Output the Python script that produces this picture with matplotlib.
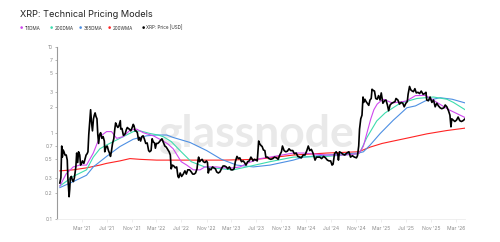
import matplotlib
matplotlib.use("Agg")
import matplotlib.pyplot as plt
import numpy as np
import pandas as pd

# ---------------- data ----------------
price_dates = [
    "2020-11-15","2020-11-20","2020-11-24","2020-11-27","2020-12-01","2020-12-05","2020-12-10","2020-12-16",
    "2020-12-21","2020-12-24","2020-12-30","2021-01-02","2021-01-05","2021-01-10","2021-01-15","2021-01-20",
    "2021-01-25","2021-02-01","2021-02-05","2021-02-10","2021-02-14","2021-02-20","2021-02-24","2021-03-01",
    "2021-03-05","2021-03-12","2021-03-18","2021-03-23","2021-03-28","2021-04-01","2021-04-05","2021-04-10",
    "2021-04-14","2021-04-18","2021-04-23","2021-04-28","2021-05-02","2021-05-06","2021-05-10","2021-05-15",
    "2021-05-19","2021-05-23","2021-05-28","2021-06-02","2021-06-08","2021-06-14","2021-06-20","2021-06-22",
    "2021-06-28","2021-07-04","2021-07-10","2021-07-15","2021-07-20","2021-07-25","2021-07-30","2021-08-05",
    "2021-08-10","2021-08-14","2021-08-20","2021-08-25","2021-08-30","2021-09-06","2021-09-08","2021-09-14",
    "2021-09-21","2021-09-26","2021-09-30","2021-10-05","2021-10-10","2021-10-15","2021-10-20","2021-10-27",
    "2021-11-01","2021-11-08","2021-11-12","2021-11-17","2021-11-22","2021-11-28","2021-12-04","2021-12-08",
    "2021-12-14","2021-12-20","2021-12-26","2022-01-01","2022-01-08","2022-01-15","2022-01-22","2022-01-27",
    "2022-02-03","2022-02-08","2022-02-14","2022-02-20","2022-02-24","2022-03-01","2022-03-08","2022-03-15",
    "2022-03-22","2022-03-28","2022-04-04","2022-04-11","2022-04-18","2022-04-25","2022-05-02","2022-05-08",
    "2022-05-12","2022-05-18","2022-05-25","2022-06-01","2022-06-08","2022-06-14","2022-06-18","2022-06-25",
    "2022-07-02","2022-07-10","2022-07-18","2022-07-25","2022-08-01","2022-08-10","2022-08-18","2022-08-25",
    "2022-09-01","2022-09-08","2022-09-15","2022-09-20","2022-09-23","2022-09-28","2022-10-04","2022-10-10",
    "2022-10-16","2022-10-24","2022-10-31","2022-11-05","2022-11-09","2022-11-15","2022-11-22","2022-11-30",
    "2022-12-06","2022-12-14","2022-12-20","2022-12-28","2023-01-05","2023-01-12","2023-01-20","2023-01-28",
    "2023-02-05","2023-02-12","2023-02-20","2023-02-28","2023-03-08","2023-03-15","2023-03-21","2023-03-29",
    "2023-04-05","2023-04-12","2023-04-20","2023-04-28","2023-05-05","2023-05-12","2023-05-20","2023-05-28",
    "2023-06-05","2023-06-10","2023-06-15","2023-06-22","2023-06-30","2023-07-06","2023-07-13","2023-07-17",
    "2023-07-22","2023-07-30","2023-08-05","2023-08-12","2023-08-17","2023-08-25","2023-09-01","2023-09-10",
    "2023-09-20","2023-09-28","2023-10-08","2023-10-16","2023-10-24","2023-11-01","2023-11-06","2023-11-14",
    "2023-11-22","2023-11-30","2023-12-08","2023-12-16","2023-12-26","2024-01-03","2024-01-12","2024-01-20",
    "2024-01-28","2024-02-06","2024-02-15","2024-02-24","2024-03-04","2024-03-11","2024-03-18","2024-03-26",
    "2024-04-03","2024-04-13","2024-04-20","2024-04-28","2024-05-06","2024-05-15","2024-05-25","2024-06-03",
    "2024-06-12","2024-06-20","2024-06-28","2024-07-05","2024-07-10","2024-07-17","2024-07-25","2024-08-02",
    "2024-08-05","2024-08-10","2024-08-20","2024-08-28","2024-09-05","2024-09-15","2024-09-25","2024-10-03",
    "2024-10-12","2024-10-22","2024-11-01","2024-11-06","2024-11-12","2024-11-16","2024-11-22","2024-11-28",
    "2024-12-03","2024-12-06","2024-12-12","2024-12-18","2024-12-24","2024-12-31","2025-01-06","2025-01-12",
    "2025-01-16","2025-01-22","2025-01-28","2025-02-03","2025-02-10","2025-02-17","2025-02-24","2025-03-02",
    "2025-03-10","2025-03-18","2025-03-25","2025-04-01","2025-04-07","2025-04-14","2025-04-22","2025-04-30",
    "2025-05-08","2025-05-13","2025-05-22","2025-05-30","2025-06-07","2025-06-15","2025-06-22","2025-06-30",
    "2025-07-07","2025-07-11","2025-07-18","2025-07-24","2025-07-31","2025-08-06","2025-08-13","2025-08-20",
    "2025-08-28","2025-09-05","2025-09-13","2025-09-22","2025-09-30","2025-10-06","2025-10-10","2025-10-18",
    "2025-10-26","2025-11-04","2025-11-12","2025-11-20","2025-11-28","2025-12-06","2025-12-14","2025-12-22",
    "2026-01-02","2026-01-08","2026-01-16","2026-01-24","2026-01-31","2026-02-05","2026-02-09","2026-02-16",
    "2026-02-24","2026-03-04","2026-03-12","2026-03-20","2026-03-28","2026-04-05","2026-04-15",
]
price_values = [
    0.26,0.30,0.70,0.52,0.63,0.60,0.55,0.55,
    0.48,0.30,0.18,0.22,0.30,0.31,0.28,0.27,
    0.30,0.40,0.58,0.45,0.60,0.55,0.42,0.44,
    0.47,0.44,0.50,0.55,0.57,0.60,0.95,1.40,
    1.85,1.35,1.05,1.45,1.60,1.70,1.55,1.45,
    0.95,0.75,0.95,1.00,0.86,0.90,0.80,0.60,
    0.68,0.70,0.62,0.58,0.53,0.62,0.75,0.85,
    1.10,1.30,1.20,1.15,1.20,1.38,1.10,1.12,
    0.93,0.95,0.98,1.08,1.15,1.12,1.10,1.05,
    1.12,1.25,1.20,1.05,1.05,1.00,0.82,0.88,
    0.80,0.90,0.92,0.85,0.75,0.76,0.62,0.60,
    0.62,0.85,0.78,0.76,0.66,0.75,0.75,0.78,
    0.82,0.85,0.77,0.70,0.68,0.64,0.60,0.55,
    0.38,0.42,0.41,0.39,0.40,0.31,0.30,0.34,
    0.31,0.33,0.36,0.33,0.37,0.37,0.35,0.33,
    0.33,0.34,0.38,0.48,0.52,0.46,0.48,0.49,
    0.46,0.45,0.47,0.45,0.34,0.38,0.37,0.40,
    0.39,0.38,0.35,0.34,0.35,0.38,0.41,0.41,
    0.40,0.38,0.40,0.37,0.37,0.38,0.46,0.53,
    0.50,0.51,0.46,0.47,0.45,0.42,0.46,0.47,
    0.52,0.50,0.47,0.49,0.48,0.47,0.80,0.75,
    0.72,0.69,0.63,0.62,0.52,0.52,0.50,0.49,
    0.50,0.52,0.51,0.49,0.55,0.60,0.70,0.62,
    0.60,0.61,0.65,0.62,0.62,0.57,0.58,0.53,
    0.52,0.51,0.55,0.55,0.62,0.70,0.62,0.64,
    0.58,0.48,0.52,0.52,0.52,0.50,0.53,0.51,
    0.48,0.47,0.47,0.42,0.43,0.57,0.60,0.56,
    0.48,0.60,0.58,0.56,0.55,0.58,0.60,0.52,
    0.54,0.52,0.51,0.54,0.70,1.10,1.45,1.60,
    2.60,2.25,2.45,2.30,2.20,2.08,2.40,2.50,
    3.20,3.10,3.05,2.50,2.45,2.70,2.40,2.90,
    2.20,2.35,2.40,2.10,1.80,2.10,2.20,2.25,
    2.30,2.50,2.40,2.15,2.25,2.20,2.00,2.20,
    2.30,2.80,3.45,3.15,3.05,3.00,3.25,2.90,
    2.95,2.85,3.05,2.80,2.85,2.95,2.40,2.35,
    2.60,2.25,2.40,2.00,2.20,2.05,1.95,1.90,
    1.95,2.10,2.00,1.80,1.60,1.17,1.45,1.40,
    1.35,1.40,1.52,1.38,1.35,1.38,1.45,
]

dma111_dates = ["2020-11-15","2020-12-15","2021-01-19","2021-02-20","2021-03-25","2021-04-27","2021-05-29",
    "2021-07-01","2021-07-25","2021-08-19","2021-09-20","2021-10-23","2021-11-25","2021-12-27","2022-02-14",
    "2022-04-03","2022-04-26","2022-05-22","2022-06-30","2022-07-27","2022-08-28","2022-09-30","2022-10-23",
    "2022-11-17","2022-12-20","2023-01-21","2023-03-11","2023-04-13","2023-05-16","2023-07-20","2023-09-06",
    "2023-12-29","2024-02-16","2024-06-09","2024-09-01","2024-11-11","2024-11-19","2024-12-05","2024-12-20",
    "2025-01-10","2025-01-25","2025-02-10","2025-03-01","2025-03-15","2025-04-24","2025-06-12","2025-07-05",
    "2025-08-16","2025-10-04","2025-11-22","2026-01-26","2026-04-15"]
dma111_values = [0.24,0.33,0.40,0.42,0.42,0.58,0.90,
    1.03,1.03,0.86,0.90,1.07,1.10,1.00,0.92,
    0.80,0.74,0.65,0.46,0.42,0.37,0.37,0.40,
    0.40,0.40,0.39,0.39,0.40,0.44,0.50,0.52,
    0.58,0.58,0.55,0.55,0.57,0.60,0.70,0.95,
    1.45,1.85,2.15,2.35,2.44,2.22,2.29,2.35,
    2.70,2.72,2.30,1.85,1.50]

dma200_dates = ["2020-11-15","2021-01-19","2021-03-25","2021-04-27","2021-05-29","2021-07-01","2021-09-04",
    "2021-11-08","2021-12-11","2022-01-28","2022-03-09","2022-04-03","2022-05-12","2022-06-30","2022-08-18",
    "2022-10-23","2023-01-12","2023-03-11","2023-05-16","2023-09-06","2023-12-29","2024-06-09","2024-11-11",
    "2024-11-19","2024-12-22","2025-02-08","2025-03-21","2025-06-02","2025-08-23","2025-11-12","2026-01-16",
    "2026-02-17","2026-04-15"]
dma200_values = [0.24,0.31,0.37,0.52,0.65,0.72,0.86,
    1.03,1.05,0.98,0.94,0.90,0.79,0.60,0.46,
    0.40,0.38,0.37,0.40,0.46,0.52,0.53,0.57,
    0.60,0.88,1.37,1.70,2.20,2.50,2.60,2.45,
    2.25,1.85]

dma365_dates = ["2020-11-15","2021-01-19","2021-03-25","2021-04-27","2021-07-01","2021-09-04","2021-11-08",
    "2022-01-12","2022-03-02","2022-04-20","2022-05-22","2022-08-12","2022-11-01","2023-01-12","2023-03-28",
    "2023-06-17","2023-09-06","2023-12-29","2024-02-16","2024-06-09","2024-11-11","2024-12-05","2025-01-07",
    "2025-02-25","2025-03-21","2025-04-30","2025-05-27","2025-07-05","2025-08-16","2025-10-04","2025-12-15",
    "2026-02-11","2026-04-15"]
dma365_values = [0.23,0.27,0.32,0.40,0.53,0.69,0.84,
    0.92,0.94,0.94,0.88,0.77,0.62,0.49,0.42,
    0.40,0.42,0.48,0.52,0.55,0.58,0.60,0.72,
    0.98,1.12,1.40,1.60,1.95,2.05,2.35,2.55,
    2.45,2.22]

wma200_dates = ["2020-11-15","2021-01-19","2021-03-25","2021-05-29","2021-07-01","2021-09-04","2021-10-23",
    "2021-12-11","2022-03-02","2022-08-12","2023-01-21","2023-07-03","2023-09-06","2023-12-29","2024-06-09",
    "2024-11-11","2025-01-07","2025-03-06","2025-04-30","2025-07-21","2025-10-11","2026-01-16","2026-04-15"]
wma200_values = [0.36,0.37,0.39,0.42,0.44,0.47,0.50,
    0.49,0.48,0.48,0.48,0.49,0.51,0.55,0.58,
    0.60,0.68,0.75,0.80,0.88,0.97,1.06,1.13]

y_ticks = [0.1, 0.2, 0.3, 0.5, 0.7, 1, 2, 3, 5, 7, 10]
y_tick_labels = ["0.1", "0.2", "0.3", "0.5", "0.7", "1", "2", "3", "5", "7", "10"]
x_tick_dates = ["2021-03-01","2021-07-01","2021-11-01","2022-03-01","2022-07-01","2022-11-01","2023-03-01",
    "2023-07-01","2023-11-01","2024-03-01","2024-07-01","2024-11-01","2025-03-01","2025-07-01","2025-11-01",
    "2026-03-01"]
x_tick_labels = ["Mar '21","Jul '21","Nov '21","Mar '22","Jul '22","Nov '22","Mar '23","Jul '23","Nov '23",
    "Mar '24","Jul '24","Nov '24","Mar '25","Jul '25","Nov '25","Mar '26"]

legend_labels = ["111DMA", "200DMA", "365DMA", "200WMA", "XRP: Price [USD]"]
colors = ["#cf47ee", "#3ddcae", "#4d8fe3", "#ff2323", "#000000"]

# ---------------- figure ----------------
plt.rcParams['font.family'] = ['Inter', 'DejaVu Sans']
fig = plt.figure(figsize=(5.0, 2.42), dpi=100)
ax = fig.add_axes([0.114, 0.0963, 0.817, 0.7107])

pd_ = pd.to_datetime
ax.text(0.49, 0.42, "glassnode", transform=ax.transAxes, ha="center", va="baseline",
        fontsize=32, color="#e9e9e9", fontweight="bold", zorder=0, family=["Lato", "DejaVu Sans"])

ax.plot(pd_(wma200_dates), wma200_values, color=colors[3], lw=0.8, zorder=2)
ax.plot(pd_(dma365_dates), dma365_values, color=colors[2], lw=0.8, zorder=2)
ax.plot(pd_(dma200_dates), dma200_values, color=colors[1], lw=0.8, zorder=2)
ax.plot(pd_(dma111_dates), dma111_values, color=colors[0], lw=0.8, zorder=2)
ax.plot(pd_(price_dates), price_values, color=colors[4], lw=1.2, zorder=3)

ax.set_yscale("log")
ax.set_ylim(0.1, 10)
ax.set_xlim(pd.Timestamp("2020-11-01"), pd.Timestamp("2026-04-17"))
ax.set_yticks(y_ticks)
ax.set_yticklabels(y_tick_labels)
ax.yaxis.set_minor_locator(matplotlib.ticker.NullLocator())
ax.set_xticks(pd_(x_tick_dates))
ax.set_xticklabels(x_tick_labels)

for s in ["top", "right"]:
    ax.spines[s].set_visible(False)
ax.spines["left"].set_color("#9a9a9a")
ax.spines["left"].set_linewidth(0.8)
ax.spines["bottom"].set_color("#ececec")
ax.spines["bottom"].set_linewidth(0.6)
ax.tick_params(axis="y", length=1.5, width=0.5, color="#9a9a9a", labelsize=3.6, labelcolor="#8a8a8a", pad=1.5)
ax.tick_params(axis="x", length=2, width=0.5, color="#e6e6e6", labelsize=3.6, labelcolor="#8a8a8a", pad=3.5)

fig.text(0.041, 0.94, "XRP: Technical Pricing Models", fontsize=6.6, color="#222222", va="center", ha="left")

leg_x = [0.042, 0.102, 0.160, 0.219, 0.286]
for xx, lab, col in zip(leg_x, legend_labels, colors):
    fig.text(xx, 0.884, "●", fontsize=2.6, color=col, va="center", ha="center")
    fig.text(xx + 0.007, 0.884, lab, fontsize=3.3, color="#333333", va="center", ha="left")

fig.savefig("out.png", dpi=100, facecolor="white")
